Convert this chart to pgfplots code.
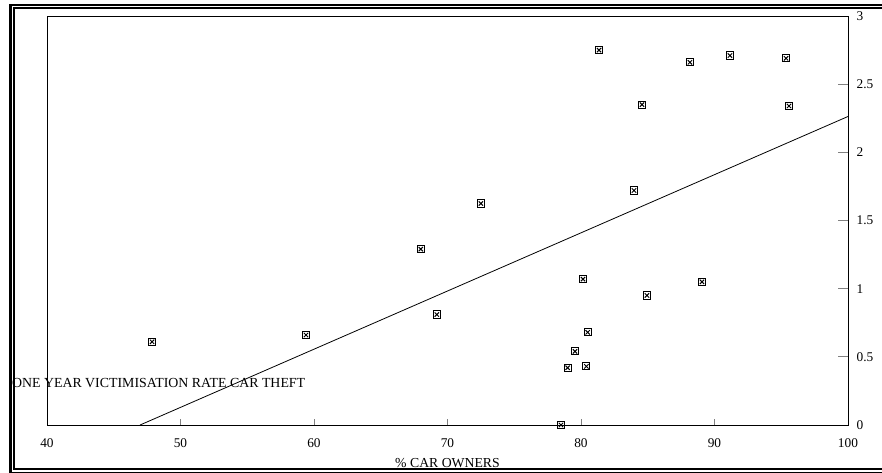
\documentclass[border=0pt]{standalone}
\usepackage{fontspec}
\setmainfont{Liberation Serif}
\usepackage{pgfplots}
\pgfplotsset{compat=1.18}
\pgfdeclareplotmark{boxx}{%
  \pgfpathrectangle{\pgfqpoint{-\pgfplotmarksize}{-\pgfplotmarksize}}{\pgfqpoint{2\pgfplotmarksize}{2\pgfplotmarksize}}%
  \pgfusepathqstroke
  \pgfpathmoveto{\pgfqpoint{-0.6\pgfplotmarksize}{-0.6\pgfplotmarksize}}%
  \pgfpathlineto{\pgfqpoint{0.6\pgfplotmarksize}{0.6\pgfplotmarksize}}%
  \pgfpathmoveto{\pgfqpoint{-0.6\pgfplotmarksize}{0.6\pgfplotmarksize}}%
  \pgfpathlineto{\pgfqpoint{0.6\pgfplotmarksize}{-0.6\pgfplotmarksize}}%
  \pgfusepathqstroke
}
\pgfplotstableread{
x y
47.87 0.61
59.4 0.66
68.0 1.29
69.2 0.81
72.5 1.625
78.5 0.0
79.0 0.42
79.55 0.54
80.15 1.07
80.4 0.43
80.5 0.68
81.35 2.75
83.97 1.72
84.57 2.35
84.94 0.95
88.16 2.66
89.06 1.05
91.16 2.71
95.36 2.69
95.58 2.34
}\datatable
\begin{document}
\begin{tikzpicture}[x=0.75pt,y=0.75pt]
\useasboundingbox (0,0) rectangle (882,472);
\draw[line width=1.9pt] (10.3,-0.8) rectangle (892,466.8);
\draw[line width=1.4pt] (14,3.2) rectangle (888,463.7);
\begin{axis}[
  at={(35.25pt,35.25pt)}, anchor=south west,
  scale only axis, width=600.75pt, height=306.75pt,
  xmin=40, xmax=100, ymin=0, ymax=3,
  xtick={40,50,...,100}, ytick={0,0.5,...,3},
  xtick pos=lower, ytick pos=right, tick align=inside,
  major tick length=7.5pt,
  x tick style={/pgfplots/major tick length=4.5pt, line width=0.6pt},
  y tick style={line width=0.6pt},
  axis line style={line width=0.7pt},
  /pgf/number format/assume math mode=true,
  tick label style={font=\fontsize{10}{12}\selectfont},
  xticklabel style={yshift=-7pt},
  yticklabel style={anchor=west, xshift=3pt},
  every axis x label/.style={at={(axis description cs:0.5,-0.0925)}, anchor=center, font=\fontsize{10.3}{12}\selectfont},
  every axis y label/.style={at={(axis description cs:-0.0495,0.1027)}, anchor=west, font=\fontsize{10.4}{12}\selectfont},
  xlabel={\% CAR OWNERS},
  ylabel={ONE YEAR VICTIMISATION RATE CAR THEFT},
  clip=false,
]
\addplot[only marks, mark=boxx, mark size=2.7pt, mark options={line width=0.75pt, black}] table[x=x,y=y] {\datatable};
\addplot[black, line width=0.6pt, no marks] coordinates {(46.97,0) (100,2.263)};
\end{axis}
\end{tikzpicture}
\end{document}
